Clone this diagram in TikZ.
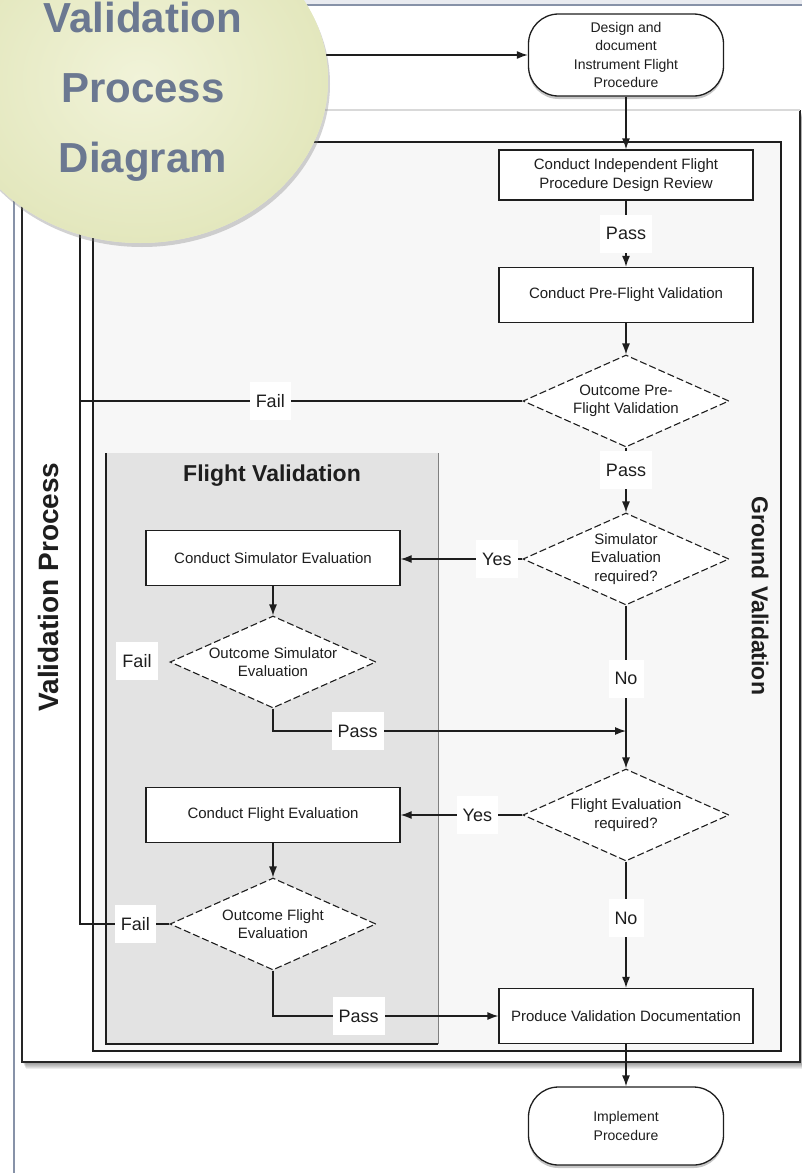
\documentclass[tikz,border=0pt]{standalone}
\usepackage{fontspec}
\setmainfont{Liberation Sans}
\usetikzlibrary{shapes.geometric,arrows.meta,shadows}
\definecolor{framecol}{HTML}{8792A8}
\definecolor{framebg}{HTML}{E9EBF0}
\definecolor{titlecol}{HTML}{6B7891}
\definecolor{bubble}{HTML}{EDF0CD}
\definecolor{bubblein}{HTML}{F1F3D9}
\definecolor{bubbleout}{HTML}{E3E7BD}
\definecolor{groundfill}{HTML}{F7F7F7}
\definecolor{flightfill}{HTML}{E3E3E3}
\definecolor{ink}{HTML}{1E1E1E}

\begin{document}
\begin{tikzpicture}[x=1pt,y=-1pt,
    font=\fontsize{15}{18.5}\selectfont,
    box/.style={draw=ink,line width=1.3pt,fill=white,minimum width=254pt,minimum height=55pt,align=center,inner sep=2pt,text=ink},
    term/.style={draw=ink,line width=1.3pt,fill=white,rounded corners=30pt,minimum width=195pt,align=center,text=ink,
        font=\fontsize{14}{18.5}\selectfont,drop shadow={shadow xshift=0pt,shadow yshift=-3pt,opacity=.45}},
    decide/.style={diamond,draw=ink,line width=1.1pt,dash pattern=on 7pt off 3pt,fill=white,text=ink,
        minimum width=206pt,minimum height=92pt,inner sep=0pt,aspect=2.2,align=center},
    lbl/.style={fill=white,inner xsep=6pt,minimum height=38pt,text=ink,font=\fontsize{18}{20}\selectfont},
    arr/.style={draw=ink,line width=1.3pt,-{Latex[length=11pt,width=8pt]}},
    link/.style={draw=ink,line width=1.3pt},
    heading/.style={text=ink,font=\fontsize{23}{26}\selectfont\bfseries}]
    \useasboundingbox (0,0) rectangle (802,1173);

    % Slide frame
    \fill[framebg] (0,0) rectangle (802,5);
    \draw[framecol,line width=2pt] (0,5) -- (802,5);
    \draw[framecol,line width=2pt] (14,5) -- (14,1173);

    % Validation process box, with a soft shadow
    \foreach \s in {1,...,7}
        \fill[black,opacity=0.07] (22+\s/2,110+\s) rectangle (800+\s/2,1062+\s);
    \fill[white] (22,110) rectangle (800,1062);
    \draw[black!85,line width=1.5pt] (22,110) -- (22,1062) -- (800,1062) -- (800,110);
    \draw[black!15,line width=1.5pt] (22,110) -- (800,110);

    % Ground validation box
    \draw[ink,line width=1.4pt,fill=groundfill] (93,142) rectangle (781,1051);

    % Flight validation box
    \fill[flightfill] (106,453) rectangle (438,1044);
    \draw[black!50,line width=1pt] (438,453) -- (438,1044);
    \draw[ink,line width=1.2pt] (106,453) -- (106,1044) -- (438,1044);

    % Headings
    \node[heading,rotate=90,font=\fontsize{28}{30}\selectfont\bfseries] (vp) at (48,587) {Validation Process};
    \node[heading,rotate=-90] (gv) at (760,596) {Ground Validation};
    \node[heading] (fv) at (272,476) {Flight Validation};

    % Steps
    \node[term,minimum height=82pt] (des) at (626,55) {Design and\\document\\Instrument Flight\\Procedure};
    \node[box,minimum height=50pt] (rev) at (626,175) {Conduct Independent Flight\\Procedure Design Review};
    \node[box] (pre) at (626,295) {Conduct Pre-Flight Validation};
    \node[decide] (opre) at (626,401) {Outcome Pre-\\Flight Validation};
    \node[decide] (sreq) at (626,559) {Simulator\\Evaluation\\required?};
    \node[box] (seval) at (273,558) {Conduct Simulator Evaluation};
    \node[decide] (sout) at (273,662) {Outcome Simulator\\Evaluation};
    \node[decide] (freq) at (626,815) {Flight Evaluation\\required?};
    \node[box] (feval) at (273,815) {Conduct Flight Evaluation};
    \node[decide] (fout) at (273,924) {Outcome Flight\\Evaluation};
    \node[box] (prod) at (626,1016) {Produce Validation Documentation};
    \node[term,minimum height=78pt] (impl) at (626,1126) {Implement\\Procedure};

    % Return line and merge point
    \coordinate (ret) at (80,55);
    \coordinate (mrg) at (626,731);

    % Connectors
    \draw[arr] (des) -- (rev);
    \draw[arr] (rev) -- node[lbl] (pass1) {Pass} (pre);
    \draw[arr] (pre) -- (opre);
    \draw[link] (opre.west) -- node[lbl,pos=.57] (fail1) {Fail} (opre.west -| ret);
    \draw[arr] (opre) -- node[lbl,pos=.35] (pass2) {Pass} (sreq);
    \draw[arr] (sreq.west) -- node[lbl,pos=.21] (yes1) {Yes} (sreq.west -| seval.east);
    \draw[arr] (seval) -- (sout);
    \node[lbl] (fail2) at (137,661) {Fail};
    \draw[arr] (sout.south) |- node[lbl,pos=.62] (pass3) {Pass} (mrg);
    \draw[arr] (sreq) -- node[lbl,pos=.45] (no1) {No} (freq);
    \draw[arr] (freq.west) -- node[lbl,pos=.37] (yes2) {Yes} (freq.west -| feval.east);
    \draw[arr] (feval) -- (fout);
    \draw[arr] (fout.west) -- node[lbl,pos=.38] (fail3) {Fail} (fout.west -| ret) -- (ret) -- (des.west);
    \draw[arr] (fout.south) |- node[lbl,pos=.69] (pass4) {Pass} (prod.west);
    \draw[arr] (freq) -- node[lbl,pos=.45] (no2) {No} (prod);
    \draw[arr] (prod) -- (impl);

    % Title bubble
    \path[fill=bubble,drop shadow={shadow xshift=2pt,shadow yshift=-4pt,opacity=.35}] (140,80) ellipse [x radius=188pt,y radius=163pt];
    \shade[inner color=bubblein,outer color=bubbleout] (140,80) ellipse [x radius=188pt,y radius=163pt];
    \node[text=titlecol,font=\fontsize{42}{70}\selectfont\bfseries,align=center,inner sep=0pt] (ttl) at (143,92) {Validation\\Process\\Diagram};
\end{tikzpicture}
\end{document}
